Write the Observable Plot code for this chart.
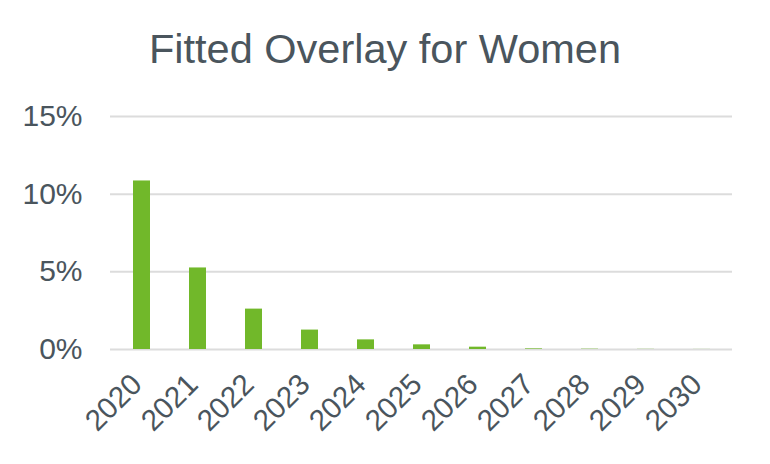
<!DOCTYPE html>
<html>
<head>
<meta charset="utf-8">
<script src="https://cdn.jsdelivr.net/npm/d3@7"></script>
<script src="https://cdn.jsdelivr.net/npm/@observablehq/plot@0.6"></script>
<style>
  body { margin: 0; background: #fff; font-family: "Liberation Sans", Arial, sans-serif; }
  #title { height: 90px; box-sizing: border-box; padding-top: 25px; line-height: 48px; font-size: 41.5px; color: #4a555d; text-align: center; width: 770px; }
</style>
</head>
<body>
<div id="title">Fitted Overlay for Women</div>
<div id="chart"></div>
<script>
const years = ["2020","2021","2022","2023","2024","2025","2026","2027","2028","2029","2030"];
const values = [10.85, 5.25, 2.6, 1.25, 0.62, 0.3, 0.15, 0.04, 0.02, 0.01, 0.005];
const yTicks = [0, 5, 10, 15];

const data = years.map((y, i) => ({year: y, value: values[i]}));
const textColor = "#4a555d";

const chart = Plot.plot({
  width: 770,
  height: 374,
  marginLeft: 110,
  marginRight: 38,
  marginTop: 26,
  marginBottom: 115,
  style: {fontFamily: "'Liberation Sans', Arial, sans-serif", color: textColor, background: "#fff"},
  x: {domain: years, paddingInner: 0.7, paddingOuter: 0.35, label: null},
  y: {domain: [0, 15], label: null},
  marks: [
    Plot.ruleY(yTicks, {stroke: "#dcdcdc", strokeWidth: 2}),
    Plot.barY(data, {x: "year", y: "value", fill: "#71b82a"}),
    Plot.axisY({ticks: yTicks, tickFormat: d => d + "%", tickSize: 0, tickPadding: 28, fontSize: 30, label: null, fill: textColor}),
    Plot.axisX({tickSize: 0, tickPadding: 30, tickRotate: -45, fontSize: 29.5, dx: -5, label: null, fill: textColor})
  ]
});
document.getElementById("chart").appendChild(chart);
</script>
</body>
</html>
